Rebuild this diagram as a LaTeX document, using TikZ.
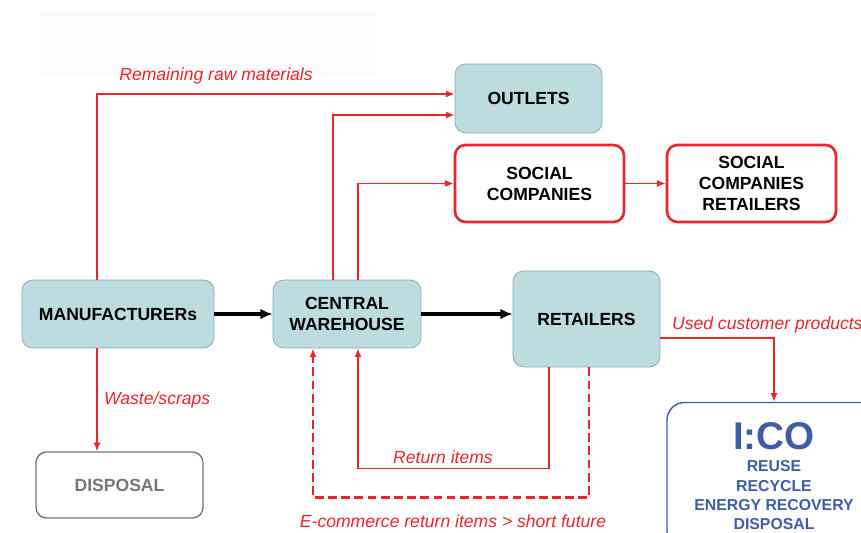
\documentclass[tikz,border=0pt]{standalone}
\usepackage{fontspec}
\setmainfont{Liberation Sans}
\usepackage{xcolor}
\usepackage{tikz}
\usetikzlibrary{arrows.meta,calc}
\definecolor{boxteal}{HTML}{BDDCDF}
\definecolor{tealedge}{HTML}{8AA6A8}
\definecolor{flowred}{HTML}{E8262B}
\definecolor{icoblue}{HTML}{3E5DA6}
\definecolor{dispgray}{HTML}{767676}

\begin{document}
\begin{tikzpicture}[x=0.02cm,y=-0.02cm,>=Latex,
    every node/.style={font=\fontsize{10}{12}\selectfont\bfseries},
    tealbox/.style={draw=tealedge,rounded corners=6pt,fill=boxteal,align=center},
    redbox/.style={draw=flowred,line width=1.5pt,rounded corners=6pt,fill=white,align=center},
    flowlabel/.style={font=\fontsize{10}{12}\selectfont\itshape,text=flowred,inner sep=1pt},
    redarrow/.style={draw=flowred,thick,-{Latex[length=5pt,width=4pt]}},
    mainarrow/.style={draw=black,line width=1.8pt,-{Latex[length=7pt,width=6pt]}}]
        \useasboundingbox (0,0) rectangle (861,533);
        \clip (0,0) rectangle (861,533);
        \fill[gray!3] (40,10) rectangle (375,75);
        \node[tealbox,minimum width=2.94cm,minimum height=1.38cm] (outlets) at (528.5,98.5) {OUTLETS};
        \node[redbox,minimum width=3.38cm,minimum height=1.54cm] (social) at (539.5,183.5) {SOCIAL\\COMPANIES};
        \node[redbox,minimum width=3.38cm,minimum height=1.54cm] (socret) at (751.5,183.5) {SOCIAL\\COMPANIES\\RETAILERS};
        \node[tealbox,minimum width=3.84cm,minimum height=1.36cm] (man) at (118,314) {MANUFACTURERs};
        \node[tealbox,minimum width=2.96cm,minimum height=1.36cm] (cw) at (347,314) {CENTRAL\\WAREHOUSE};
        \node[tealbox,minimum width=2.94cm,minimum height=1.92cm] (ret) at (586.5,319) {RETAILERS};
        \node[draw=dispgray,thick,rounded corners=6pt,text=dispgray,minimum width=3.34cm,minimum height=1.32cm] (disp) at (119.5,485) {DISPOSAL};
        \node[draw=icoblue,thick,rounded corners=10pt,text=icoblue,align=center,minimum width=4.28cm,minimum height=2.94cm,
              font=\fontsize{9}{11}\selectfont\bfseries] (ico) at (774,476) {{\fontsize{22}{24}\selectfont I:CO}\\[2pt]REUSE\\RECYCLE\\ENERGY RECOVERY\\DISPOSAL};
        % labels
        \node[flowlabel] (lraw) at (216,76) {Remaining raw materials};
        \node[flowlabel,anchor=west] (lwaste) at (102,400) {Waste/scraps};
        \node[flowlabel,anchor=west] (lused) at (670,325) {Used customer products};
        \node[flowlabel] (lret) at (443,457) {Return items};
        \node[flowlabel] (lecom) at (453,521) {E-commerce return items > short future};
        % flows
        \draw[mainarrow] (man.east) -- (cw.west);
        \draw[mainarrow] (cw.east) -- (cw.east -| ret.west);
        \draw[redarrow] ($(man.north)+(-21,0)$) |- ($(outlets.west)+(0,-4.5)$);
        \draw[redarrow] ($(cw.north)+(-14,0)$) |- ($(outlets.west)+(0,16.5)$);
        \draw[redarrow] ($(cw.north)+(11,0)$) |- (social.west);
        \draw[redarrow] (social.east) -- (socret.west);
        \draw[redarrow] ($(man.south)+(-21,0)$) -- ($(disp.north)+(-22.5,0)$);
        \draw[redarrow] ($(ret.east)+(0,19)$) -| (ico.north);
        \draw[redarrow] ($(ret.south)+(-37.5,0)$) |- ($(cw.south)+(11,120)$) -- ($(cw.south)+(11,0)$);
        \draw[redarrow,line width=1.4pt,dash pattern=on 5pt off 2.5pt] ($(ret.south)+(2.5,0)$) |- ($(cw.south)+(-34,149)$) -- ($(cw.south)+(-34,0)$);
      \end{tikzpicture}
\end{document}
